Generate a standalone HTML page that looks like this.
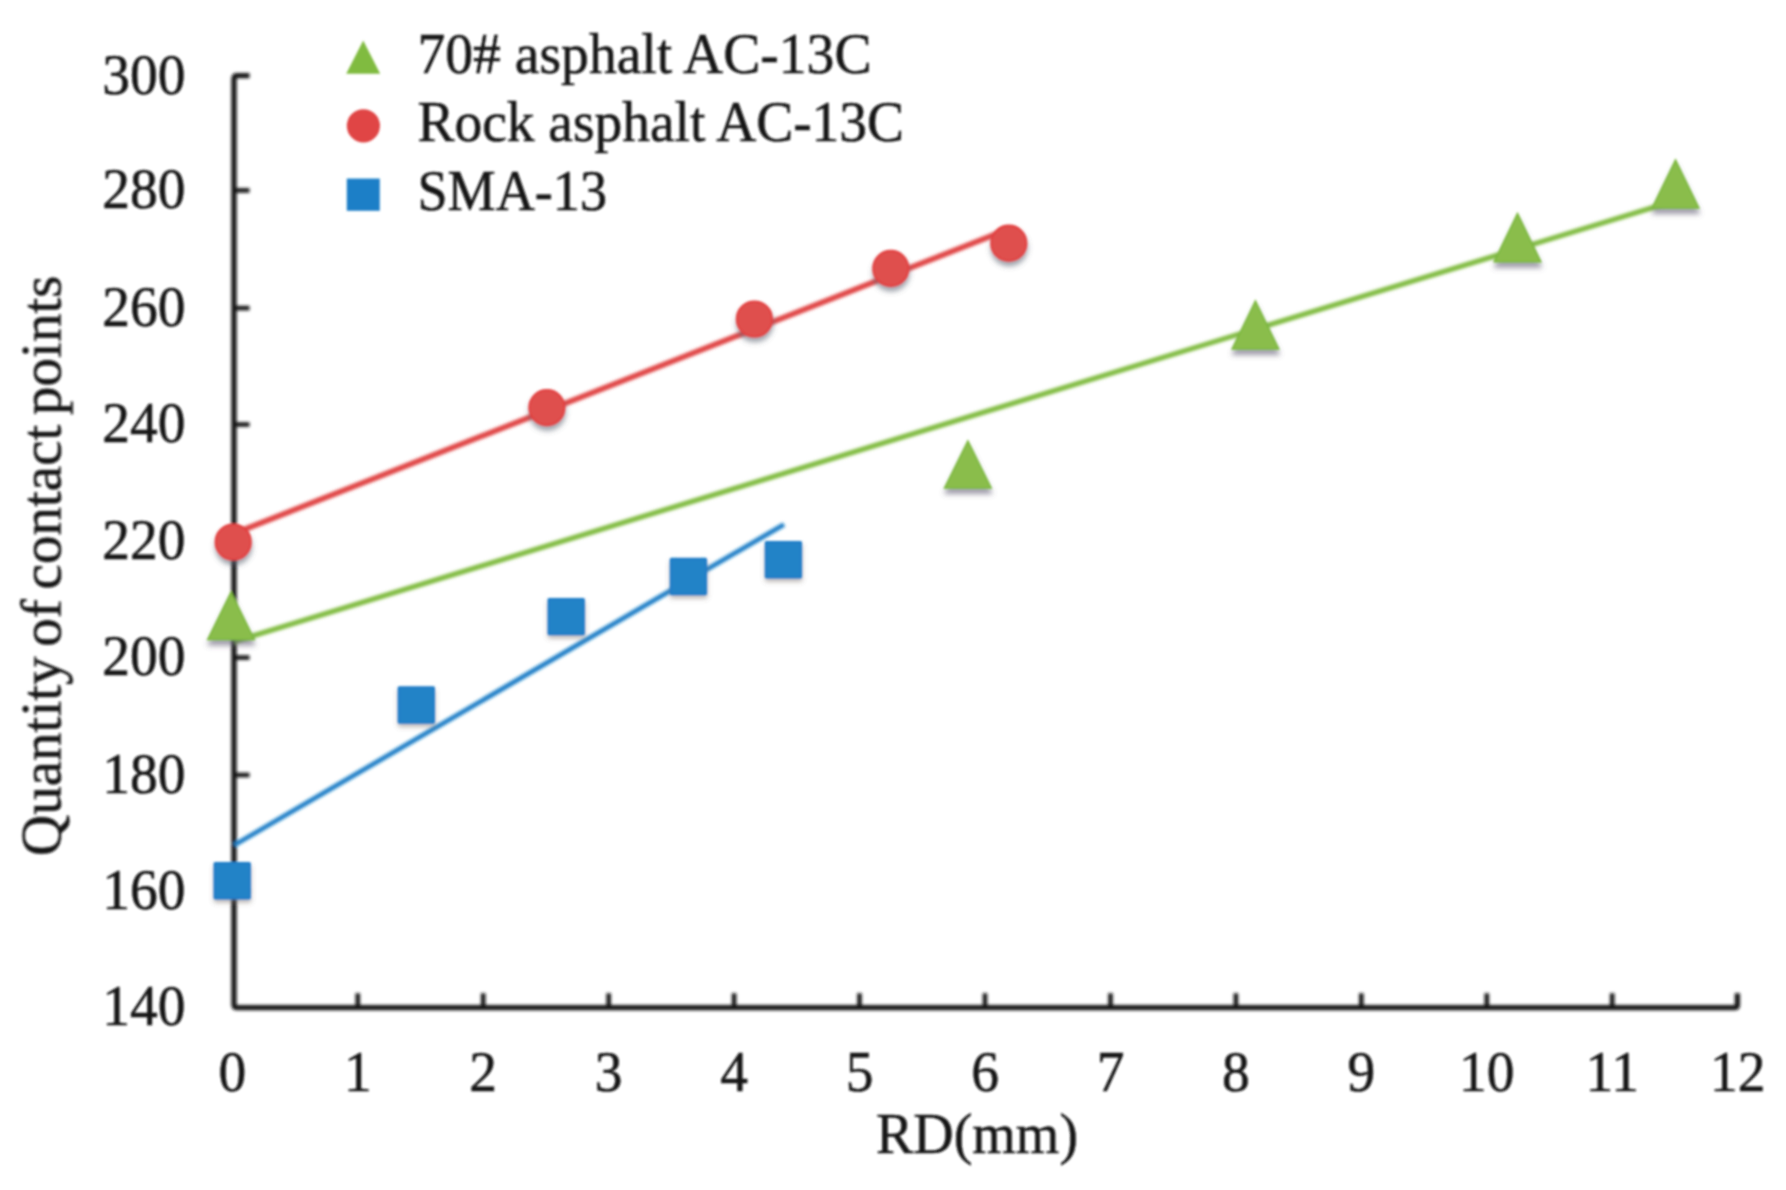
<!DOCTYPE html>
<html lang="en"><head><meta charset="utf-8"><title>Quantity of contact points vs RD</title>
<style>
html,body{margin:0;padding:0;background:#fff;}
body{width:1786px;height:1190px;overflow:hidden;}
svg{display:block;}
text{font-family:"Liberation Serif","Times New Roman",serif;fill:#151515;stroke:#151515;stroke-width:0.5px;}
.tk{font-size:55.5px;}
.lg{font-size:56px;}
</style></head><body>
<svg width="1786" height="1190" viewBox="0 0 1786 1190">
<defs>
<filter id="sh" x="-30%" y="-30%" width="160%" height="180%"><feDropShadow dx="0.4" dy="4.6" stdDeviation="2.5" flood-color="#5c6470" flood-opacity="0.6"/></filter>
<filter id="sht" x="-30%" y="-30%" width="160%" height="180%"><feDropShadow dx="0.4" dy="5.4" stdDeviation="2.6" flood-color="#625e74" flood-opacity="0.6"/></filter>
<filter id="shs" x="-30%" y="-30%" width="160%" height="180%"><feDropShadow dx="0.3" dy="3.2" stdDeviation="1.9" flood-color="#77706a" flood-opacity="0.5"/></filter>
<filter id="soft" x="-2%" y="-2%" width="104%" height="104%"><feGaussianBlur stdDeviation="0.95"/></filter>
<filter id="soft2" x="-2%" y="-2%" width="104%" height="104%"><feGaussianBlur stdDeviation="0.8"/></filter>
</defs>
<rect width="1786" height="1190" fill="#fff"/>
<g filter="url(#soft)">
<g filter="url(#soft2)">
<path d="M249.5 75.7 H237.0 Q234.0 75.7 234.0 78.7 V1004.7 Q234.0 1007.7 237.0 1007.7 H1734.4 Q1737.4 1007.7 1737.4 1004.7 V993.2" fill="none" stroke="#141414" stroke-width="5.3" stroke-linejoin="round" stroke-linecap="butt"/>
<line x1="234.0" y1="190.4" x2="249.5" y2="190.4" stroke="#161616" stroke-width="4.6"/>
<line x1="234.0" y1="308.1" x2="249.5" y2="308.1" stroke="#161616" stroke-width="4.6"/>
<line x1="234.0" y1="424.5" x2="249.5" y2="424.5" stroke="#161616" stroke-width="4.6"/>
<line x1="234.0" y1="541.3" x2="249.5" y2="541.3" stroke="#161616" stroke-width="4.6"/>
<line x1="234.0" y1="657.6" x2="249.5" y2="657.6" stroke="#161616" stroke-width="4.6"/>
<line x1="234.0" y1="775" x2="249.5" y2="775" stroke="#161616" stroke-width="4.6"/>
<line x1="234.0" y1="890.8" x2="249.5" y2="890.8" stroke="#161616" stroke-width="4.6"/>
<line x1="357.8" y1="1007.7" x2="357.8" y2="993.2" stroke="#161616" stroke-width="4.6"/>
<line x1="483.2" y1="1007.7" x2="483.2" y2="993.2" stroke="#161616" stroke-width="4.6"/>
<line x1="608.7" y1="1007.7" x2="608.7" y2="993.2" stroke="#161616" stroke-width="4.6"/>
<line x1="734.1" y1="1007.7" x2="734.1" y2="993.2" stroke="#161616" stroke-width="4.6"/>
<line x1="859.5" y1="1007.7" x2="859.5" y2="993.2" stroke="#161616" stroke-width="4.6"/>
<line x1="985.0" y1="1007.7" x2="985.0" y2="993.2" stroke="#161616" stroke-width="4.6"/>
<line x1="1110.5" y1="1007.7" x2="1110.5" y2="993.2" stroke="#161616" stroke-width="4.6"/>
<line x1="1235.9" y1="1007.7" x2="1235.9" y2="993.2" stroke="#161616" stroke-width="4.6"/>
<line x1="1361.3" y1="1007.7" x2="1361.3" y2="993.2" stroke="#161616" stroke-width="4.6"/>
<line x1="1486.8" y1="1007.7" x2="1486.8" y2="993.2" stroke="#161616" stroke-width="4.6"/>
<line x1="1612.2" y1="1007.7" x2="1612.2" y2="993.2" stroke="#161616" stroke-width="4.6"/>
<line x1="234.4" y1="641.5" x2="1675" y2="200.8" stroke="#80bb41" stroke-width="5.2"/>
<line x1="234.4" y1="533.4" x2="1008.8" y2="229" stroke="#e04444" stroke-width="5.6"/>
<line x1="234.4" y1="845" x2="784" y2="524.5" stroke="#1f7fc7" stroke-width="4.8"/>
</g>
<text class="tk" transform="translate(185.5 93.5) scale(1 1.035)" text-anchor="end">300</text>
<text class="tk" transform="translate(185.5 208.2) scale(1 1.035)" text-anchor="end">280</text>
<text class="tk" transform="translate(185.5 325.9) scale(1 1.035)" text-anchor="end">260</text>
<text class="tk" transform="translate(185.5 442.3) scale(1 1.035)" text-anchor="end">240</text>
<text class="tk" transform="translate(185.5 559.1) scale(1 1.035)" text-anchor="end">220</text>
<text class="tk" transform="translate(185.5 675.4) scale(1 1.035)" text-anchor="end">200</text>
<text class="tk" transform="translate(185.5 792.8) scale(1 1.035)" text-anchor="end">180</text>
<text class="tk" transform="translate(185.5 908.6) scale(1 1.035)" text-anchor="end">160</text>
<text class="tk" transform="translate(185.5 1025.0) scale(1 1.035)" text-anchor="end">140</text>
<text class="tk" transform="translate(232.3 1090.8) scale(1 1.035)" text-anchor="middle">0</text>
<text class="tk" transform="translate(357.8 1090.8) scale(1 1.035)" text-anchor="middle">1</text>
<text class="tk" transform="translate(483.2 1090.8) scale(1 1.035)" text-anchor="middle">2</text>
<text class="tk" transform="translate(608.7 1090.8) scale(1 1.035)" text-anchor="middle">3</text>
<text class="tk" transform="translate(734.1 1090.8) scale(1 1.035)" text-anchor="middle">4</text>
<text class="tk" transform="translate(859.5 1090.8) scale(1 1.035)" text-anchor="middle">5</text>
<text class="tk" transform="translate(985.0 1090.8) scale(1 1.035)" text-anchor="middle">6</text>
<text class="tk" transform="translate(1110.5 1090.8) scale(1 1.035)" text-anchor="middle">7</text>
<text class="tk" transform="translate(1235.9 1090.8) scale(1 1.035)" text-anchor="middle">8</text>
<text class="tk" transform="translate(1361.3 1090.8) scale(1 1.035)" text-anchor="middle">9</text>
<text class="tk" transform="translate(1486.8 1090.8) scale(1 1.035)" text-anchor="middle">10</text>
<text class="tk" transform="translate(1612.2 1090.8) scale(1 1.035)" text-anchor="middle">11</text>
<text class="tk" transform="translate(1737.7 1090.8) scale(1 1.035)" text-anchor="middle">12</text>
<text class="lg" transform="translate(977 1152.6) scale(1 1.03)" text-anchor="middle" textLength="202" lengthAdjust="spacingAndGlyphs">RD(mm)</text>
<text transform="translate(60.5 565.8) rotate(-90)" text-anchor="middle" style="font-size:57px;word-spacing:-4.5px" textLength="580.5" lengthAdjust="spacingAndGlyphs">Quantity of contact points</text>
<polygon points="231.0,592.4 254.2,639.5 207.8,639.5" fill="#8abd4c" stroke="#7ab83b" stroke-width="1.6" stroke-linejoin="miter" filter="url(#sht)"/>
<polygon points="967.9,441.0 991.1,488.0 944.6,488.0" fill="#8abd4c" stroke="#7ab83b" stroke-width="1.6" stroke-linejoin="miter" filter="url(#sht)"/>
<polygon points="1255.4,301.0 1278.7,349.0 1232.2,349.0" fill="#8abd4c" stroke="#7ab83b" stroke-width="1.6" stroke-linejoin="miter" filter="url(#sht)"/>
<polygon points="1517.5,213.7 1540.8,261.8 1494.2,261.8" fill="#8abd4c" stroke="#7ab83b" stroke-width="1.6" stroke-linejoin="miter" filter="url(#sht)"/>
<polygon points="1675.5,160.2 1698.8,208.0 1652.2,208.0" fill="#8abd4c" stroke="#7ab83b" stroke-width="1.6" stroke-linejoin="miter" filter="url(#sht)"/>
<circle cx="233.2" cy="542" r="17.7" fill="#df4f4e" stroke="#e33d3d" stroke-width="1.8" filter="url(#sh)"/>
<circle cx="546.9" cy="407.6" r="17.7" fill="#df4f4e" stroke="#e33d3d" stroke-width="1.8" filter="url(#sh)"/>
<circle cx="754.4" cy="319" r="17.7" fill="#df4f4e" stroke="#e33d3d" stroke-width="1.8" filter="url(#sh)"/>
<circle cx="890.8" cy="268.4" r="17.7" fill="#df4f4e" stroke="#e33d3d" stroke-width="1.8" filter="url(#sh)"/>
<circle cx="1008.8" cy="243.2" r="17.7" fill="#df4f4e" stroke="#e33d3d" stroke-width="1.8" filter="url(#sh)"/>
<rect x="214.5" y="863.0" width="35.4" height="35.4" rx="0.6" fill="#2383c7" stroke="#1a7bc8" stroke-width="2" filter="url(#shs)"/>
<rect x="398.6" y="687.3" width="35.4" height="35.4" rx="0.6" fill="#2383c7" stroke="#1a7bc8" stroke-width="2" filter="url(#shs)"/>
<rect x="548.5" y="598.9" width="35.4" height="35.4" rx="0.6" fill="#2383c7" stroke="#1a7bc8" stroke-width="2" filter="url(#shs)"/>
<rect x="670.7" y="558.8" width="35.4" height="35.4" rx="0.6" fill="#2383c7" stroke="#1a7bc8" stroke-width="2" filter="url(#shs)"/>
<rect x="765.7" y="542.0" width="35.4" height="35.4" rx="0.6" fill="#2383c7" stroke="#1a7bc8" stroke-width="2" filter="url(#shs)"/>
<polygon points="363.2,40.5 380.2,73.8 346.2,73.8" fill="#80bb41"/>
<circle cx="363.4" cy="125.8" r="16.6" fill="#e04444"/>
<rect x="346.8" y="178.6" width="33" height="32.2" fill="#1f7fc7"/>
<text class="lg" x="417.5" y="72.6" textLength="454" lengthAdjust="spacingAndGlyphs">70# asphalt AC-13C</text>
<text class="lg" x="417.5" y="141" textLength="486.5" lengthAdjust="spacingAndGlyphs">Rock asphalt AC-13C</text>
<text class="lg" x="417.5" y="209.6" textLength="189.5" lengthAdjust="spacingAndGlyphs">SMA-13</text>
</g></svg></body></html>
